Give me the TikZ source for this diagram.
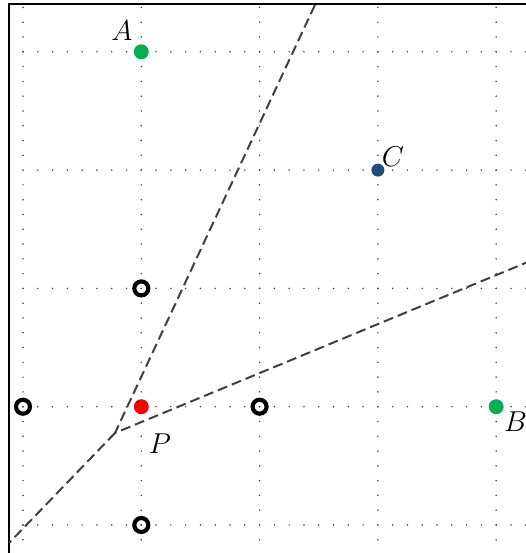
\documentclass[tikz,border=0pt]{standalone}
\usetikzlibrary{calc}
\definecolor{ptgreen}{RGB}{0,176,80}
\definecolor{ptblue}{RGB}{31,78,121}
\definecolor{dotgray}{RGB}{60,60,60}
\definecolor{dashgray}{RGB}{64,64,64}
\begin{document}
\begin{tikzpicture}[x=2.5cm,y=2.5cm,
  gdot/.style={fill=dotgray},
  solidpt/.style={circle,inner sep=0pt,minimum size=9pt},
  ringpt/.style={circle,draw=black,line width=2.5pt,inner sep=0pt,minimum size=8.4pt},
  lbl/.style={inner sep=0pt,font=\fontsize{16}{19}\selectfont},
  bis/.style={draw=dashgray,line width=1.2pt,dash pattern=on 6pt off 3pt},
  frame/.style={draw=black,line width=1.5pt}]
\useasboundingbox (-0.1944,-0.2367) rectangle (4.252,4.438);
% dotted grid
\foreach \gx in {0,...,4}{
  \foreach \k in {-1,...,35}{
    \fill[gdot] (\gx,\k/8) circle (0.5pt);
  }
}
\foreach \gy in {0,...,4}{
  \foreach \k in {0,...,34}{
    \fill[gdot] (\k/8,\gy) circle (0.5pt);
  }
}
% frame
\coordinate (FL) at (-0.118,-0.30);
\coordinate (FC) at (-0.118,4.404);
\coordinate (FR) at (4.30,4.404);
\draw[frame] (FL) -- (FC) -- (FR);
% dashed bisectors
\coordinate (V) at (0.778,0.778);
\coordinate (E1) at (2.468,4.396);
\coordinate (E2) at (4.26,2.22);
\coordinate (E3) at (-0.118,-0.152);
\draw[bis] (E1) -- (V) -- (E2);
\draw[bis] (V) -- (E3);
% points
\node[solidpt,fill=ptgreen] (A) at (1,4) {};
\node[solidpt,fill=ptgreen] (B) at (4,1) {};
\node[solidpt,fill=red] (P) at (1,1) {};
\node[circle,inner sep=0pt,minimum size=7.8pt,fill=ptblue] (C) at (3,3) {};
\node[ringpt] (R1) at (1,2) {};
\node[ringpt] (R2) at (0,1) {};
\node[ringpt] (R3) at (2,1) {};
\node[ringpt] (R4) at (1,0) {};
% labels
\node[lbl] (LA) at (0.837,4.18) {$A$};
\node[lbl] (LB) at (4.163,0.871) {$B$};
\node[lbl] (LC) at (3.128,3.111) {$C$};
\node[lbl] (LP) at (1.158,0.685) {$P$};
\end{tikzpicture}
\end{document}
